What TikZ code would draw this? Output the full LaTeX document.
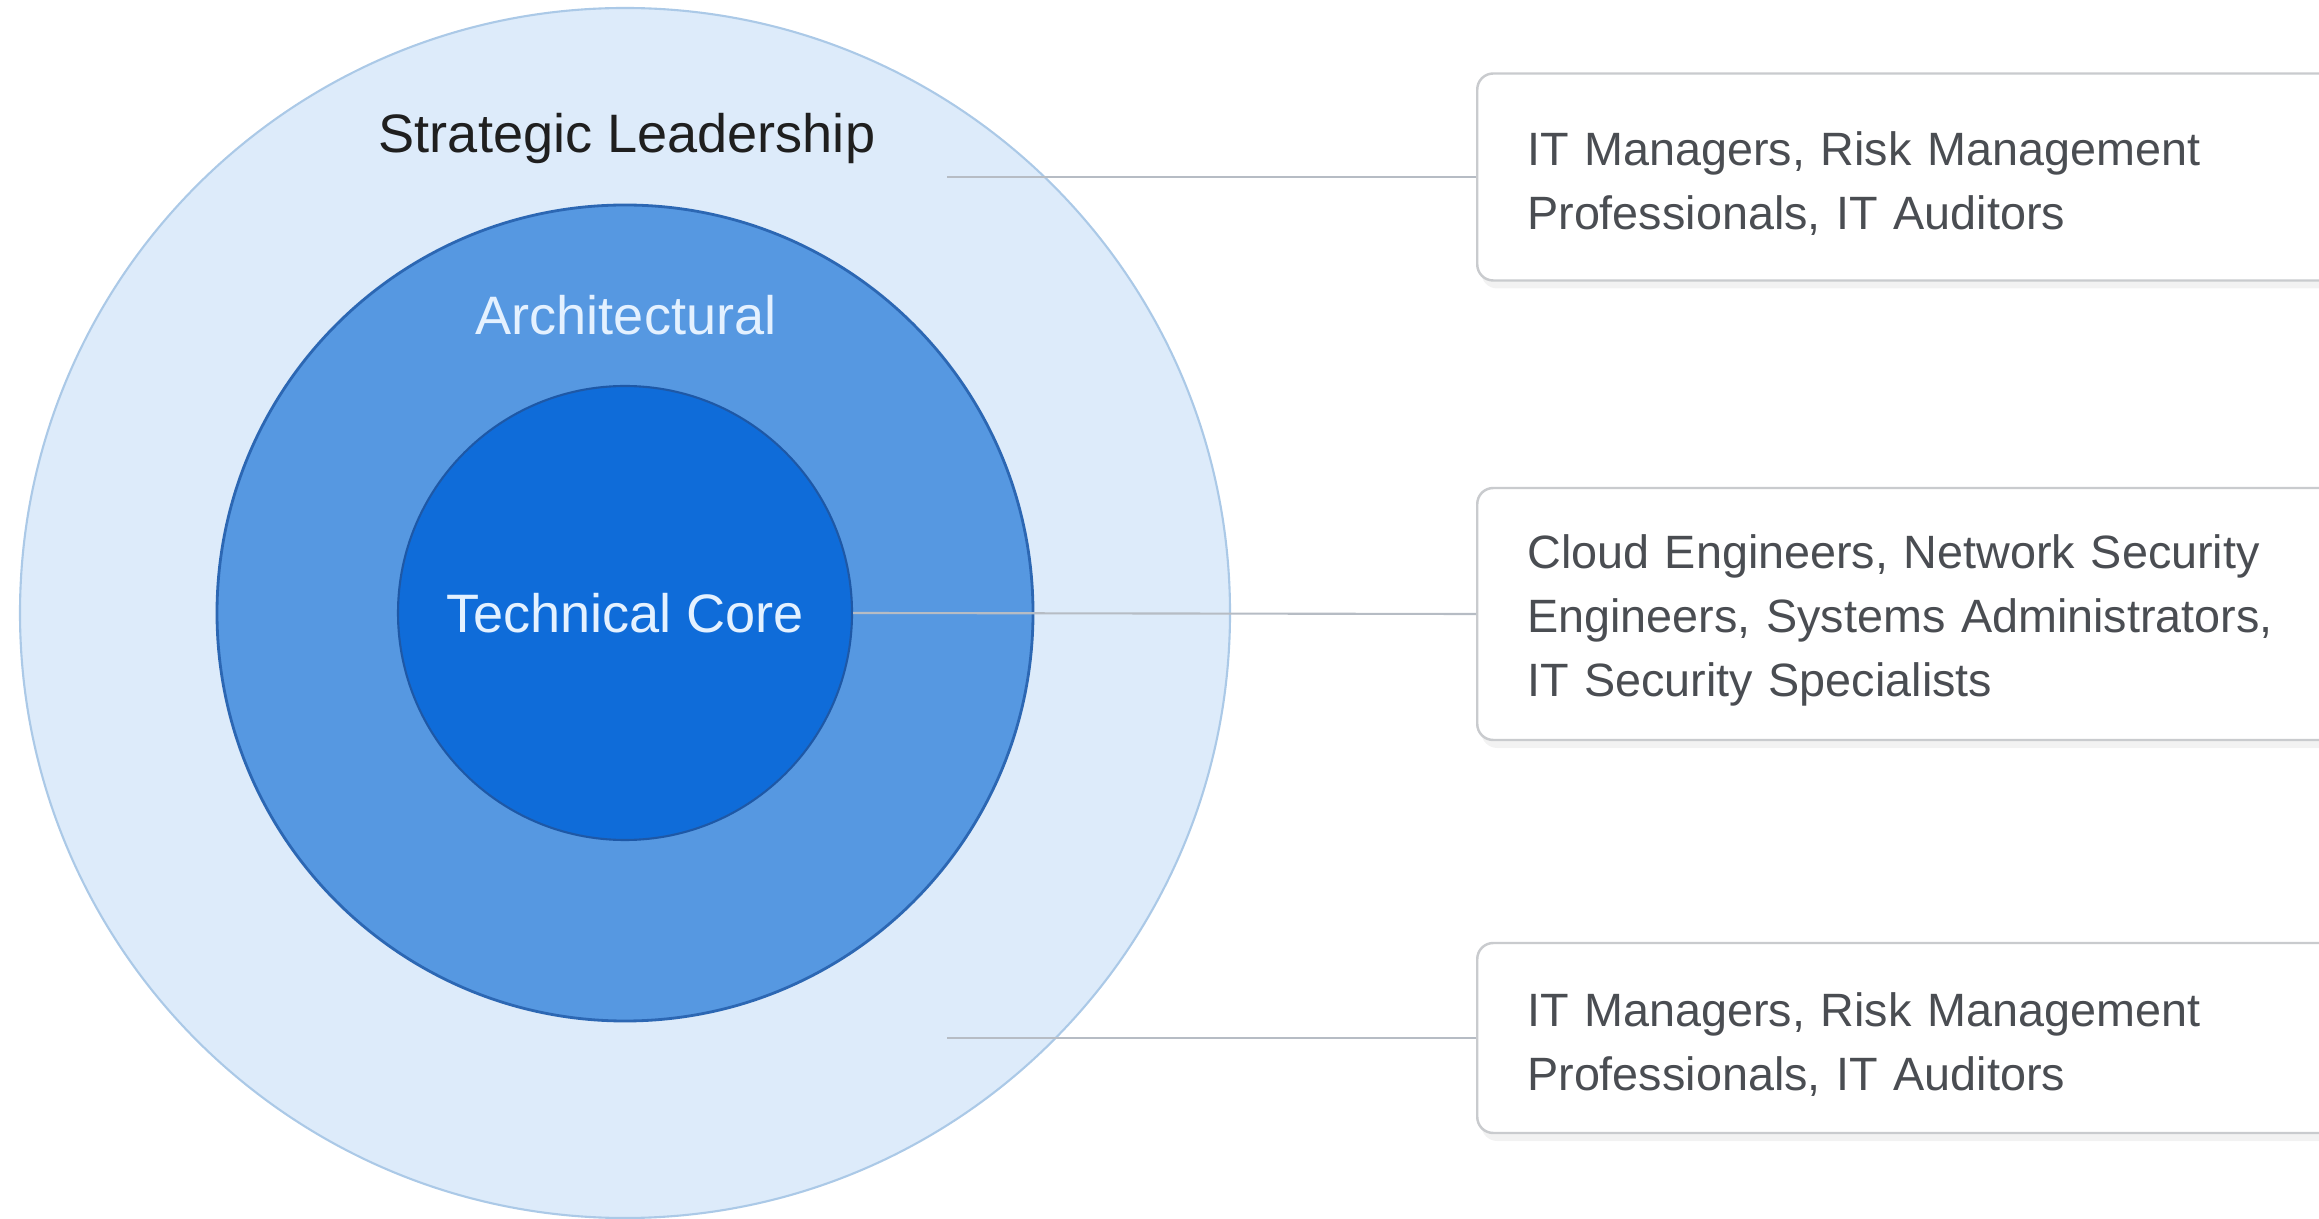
\documentclass[tikz,border=0pt]{standalone}
\usepackage{fontspec}
\setmainfont{Liberation Sans}
\usepackage{tikz}
\usetikzlibrary{shadows}

\definecolor{outerfill}{HTML}{DDEBFA}
\definecolor{outerline}{HTML}{ABC9E7}
\definecolor{midfill}{HTML}{5698E1}
\definecolor{midline}{HTML}{2C67B3}
\definecolor{corefill}{HTML}{0F6CD9}
\definecolor{coreline}{HTML}{1E58A6}
\definecolor{leaderline}{HTML}{B6BCC4}
\definecolor{boxline}{HTML}{C9CBCE}
\definecolor{boxtext}{HTML}{4A4D52}
\definecolor{lighttext}{HTML}{E4F1FF}
\newcommand{\boxstrut}{\rule{0pt}{0.47cm}}

\begin{document}
\begin{tikzpicture}[
        ring/.style={circle, inner sep=0pt},
        ringlabel/.style={font=\fontsize{15.4}{18}\selectfont},
        leader/.style={draw=leaderline, line width=0.6pt},
        rolebox/.style={draw=boxline, fill=white, line width=0.7pt, rounded corners=0.16cm,
            anchor=west, text width=8.5cm, inner xsep=0.5cm, inner ysep=0pt, align=left,
            text=boxtext, font=\fontsize{13.3}{18.2}\selectfont,
            drop shadow={opacity=0.10, shadow xshift=0.04cm, shadow yshift=-0.08cm}}
    ]
                \useasboundingbox (0,0) rectangle (23.19,12.18);
                \clip (0,0) rectangle (23.19,12.18);
                % Draw the three rings
                \node[ring, fill=outerfill, draw=outerline, line width=0.6pt, minimum size=12.10cm] (strategic) at (6.25,6.05) {};
                \node[ring, fill=midfill, draw=midline, line width=0.8pt, minimum size=8.16cm] (architectural) at (6.25,6.05) {};
                \node[ring, fill=corefill, draw=coreline, line width=0.6pt, minimum size=4.54cm] (core) at (6.25,6.05) {};
                % Ring labels
                \node[ringlabel, text=black!88] (strategiclabel) at (6.27,10.79) {Strategic Leadership};
                \node[ringlabel, text=lighttext] (architecturallabel) at (6.26,9.03) {Architectural};
                \node[ringlabel, text=lighttext] (corelabel) at (core.center) {Technical Core};
                % Role boxes
                \node[rolebox, minimum height=2.07cm] (leadtop) at (14.76,10.41)
                    {\boxstrut IT Managers, Risk Management\\Professionals, IT Auditors};
                \node[rolebox, minimum height=2.52cm] (tech) at (14.76,6.04)
                    {\boxstrut Cloud Engineers, Network Security\\Engineers, Systems Administrators,\\IT Security Specialists};
                \node[rolebox, minimum height=1.90cm] (leadbottom) at (14.76,1.80)
                    {\boxstrut IT Managers, Risk Management\\Professionals, IT Auditors};
                % Leader lines
                \coordinate (toppoint) at (9.47,10.41);
                \coordinate (bottompoint) at (9.47,1.80);
                \draw[leader] (toppoint) -- (leadtop.west);
                \draw[leader] (core.east) -- (tech.west);
                \draw[leader] (bottompoint) -- (leadbottom.west);
            \end{tikzpicture}
\end{document}
